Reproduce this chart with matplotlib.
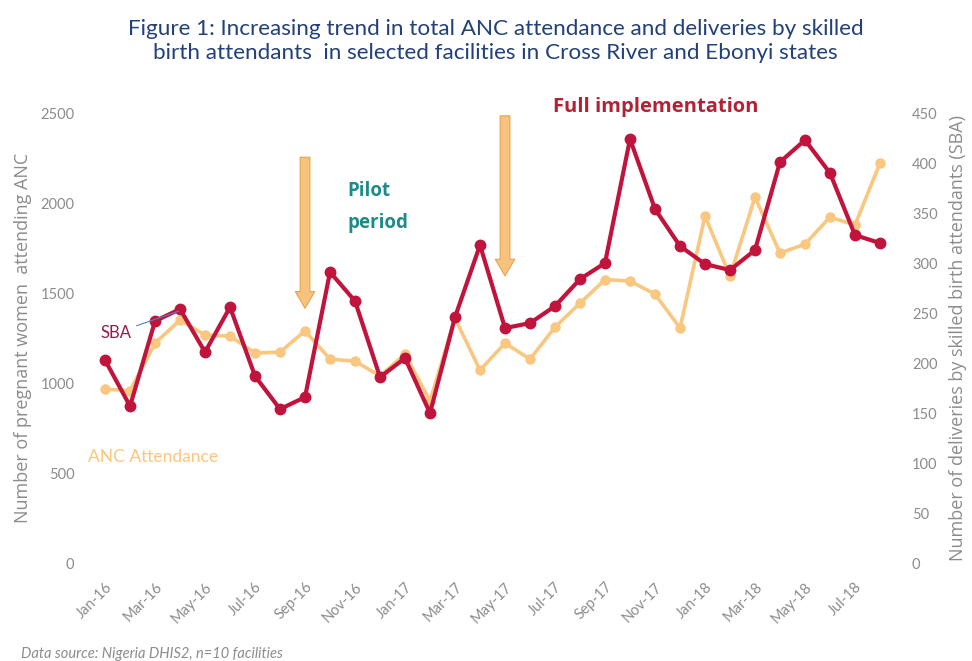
import matplotlib.pyplot as plt

months = ['Jan-16', 'Feb-16', 'Mar-16', 'Apr-16', 'May-16', 'Jun-16', 'Jul-16', 'Aug-16',
          'Sep-16', 'Oct-16', 'Nov-16', 'Dec-16', 'Jan-17', 'Feb-17', 'Mar-17', 'Apr-17',
          'May-17', 'Jun-17', 'Jul-17', 'Aug-17', 'Sep-17', 'Oct-17', 'Nov-17', 'Dec-17',
          'Jan-18', 'Feb-18', 'Mar-18', 'Apr-18', 'May-18', 'Jun-18', 'Jul-18', 'Aug-18']

anc = [967, 958, 1222, 1350, 1267, 1261, 1167, 1172,
       1290, 1133, 1122, 1040, 1161, 900, 1360, 1072,
       1222, 1133, 1311, 1444, 1575, 1567, 1494, 1306,
       1928, 1594, 2033, 1722, 1772, 1922, 1878, 2222]

sba = [203, 157, 242, 254, 211, 256, 187, 154,
       166, 291, 262, 186, 205, 150, 246, 318,
       235, 240, 257, 284, 300, 424, 354, 317,
       299, 293, 313, 401, 423, 390, 328, 320]

anc_color = '#F9C77F'
sba_color = '#C0143C'
grey = '#8C8C8C'

plt.rcParams['font.family'] = ['Lato', 'DejaVu Sans']

fig = plt.figure(figsize=(9.72, 6.61), dpi=100)
ax = fig.add_axes([0.0952, 0.148, 0.823, 0.681])
ax2 = ax.twinx()

x = list(range(len(months)))
ax.plot(x, anc, color=anc_color, lw=2.6, marker='o', ms=6.5, zorder=3)
ax2.plot(x, sba, color=sba_color, lw=3.0, marker='o', ms=7.5, zorder=3)

ax.set_xlim(-0.5, len(months) - 0.5)
ax.set_ylim(0, 2500)
ax2.set_ylim(0, 450)
ax.set_yticks(range(0, 2501, 500))
ax2.set_yticks(range(0, 451, 50))
ax.set_xticks(x[::2])
ax.set_xticklabels(months[::2], rotation=45, ha='right', rotation_mode='anchor')

for a in (ax, ax2):
    for s in a.spines.values():
        s.set_visible(False)
    a.tick_params(length=0, colors=grey, labelsize=10.5)
ax.tick_params(axis='x', labelsize=10.5, pad=12)
ax.tick_params(axis='y', pad=13)
ax2.tick_params(axis='y', pad=14)

ax.set_ylabel('Number of pregnant women  attending ANC', color=grey, fontsize=13,
              family=['Open Sans', 'DejaVu Sans'], labelpad=6)
ax2.set_ylabel('Number of deliveries by skilled birth attendants (SBA)', color=grey,
               fontsize=13, family=['Open Sans', 'DejaVu Sans'], labelpad=8)

# arrows marking the phases
arrow_kw = dict(arrowstyle='simple,head_width=0.7,head_length=0.6,tail_width=0.35',
                fc='#F7C27E', ec='#E3A453', lw=0.8, mutation_scale=20)
ax.annotate('', xy=(8, 1400), xytext=(8, 2270), arrowprops=arrow_kw, zorder=5)
ax.annotate('', xy=(16, 1580), xytext=(16, 2500), arrowprops=arrow_kw, zorder=5,
            annotation_clip=False)

ax.text(9.7, 2120, 'Pilot\nperiod', color='#1F8A8A', fontsize=13.5, fontweight='bold',
        va='top', ha='left', linespacing=1.8, family=['Open Sans', 'DejaVu Sans'])
ax2.text(17.9, 456, 'Full implementation', color='#B22234', fontsize=14.5, fontweight='bold',
         va='center', ha='left', clip_on=False, family=['Open Sans', 'DejaVu Sans'])

ax2.annotate('SBA', xy=(2.95, 252), xytext=(-0.2, 230), color='#8E1F4D', fontsize=12,
             va='center', ha='left',
             arrowprops=dict(arrowstyle='-', color='#5B7FC0', lw=0.8, shrinkA=2, shrinkB=0))
ax.text(-0.7, 590, 'ANC Attendance', color=anc_color, fontsize=12.5, va='center', ha='left')

fig.text(0.51, 0.972, 'Figure 1: Increasing trend in total ANC attendance and deliveries by skilled\n'
         'birth attendants  in selected facilities in Cross River and Ebonyi states',
         ha='center', va='top', color='#23407A', fontsize=16.2, linespacing=1.3)
fig.text(0.022, 0.0, 'Data source: Nigeria DHIS2, n=10 facilities', color=grey,
         fontsize=10.5, style='italic', ha='left', va='bottom')

fig.savefig('out.png', dpi=100)
